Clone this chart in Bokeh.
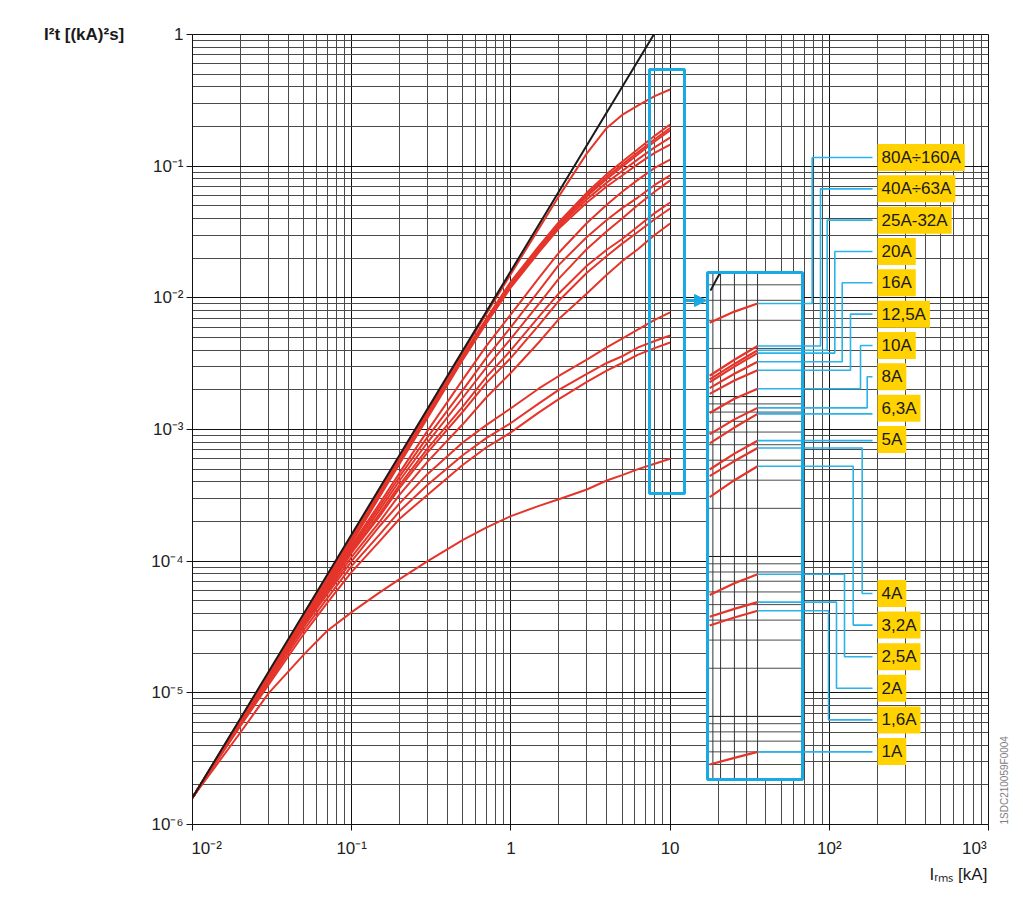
import math
from bokeh.plotting import figure
from bokeh.models import (Range1d, LogScale, LinearScale, FixedTicker, LinearAxis, Title,
                          Arrow, NormalHead, ColumnDataSource)
from bokeh.core.properties import value
from bokeh.embed import file_html
from bokeh.resources import INLINE

# ---------------- data ----------------
X = [0.01, 0.02, 0.03, 0.05, 0.07, 0.1, 0.15, 0.2, 0.3, 0.5, 0.7, 1, 1.5, 2, 3, 4, 5, 6.3, 8, 10]

BLACK_X = [0.01, 10]
BLACK_Y = [1.6e-6, 1.6]

Y_80A_160A = [1.6e-6, 6.3e-6, 1.41e-5, 3.9e-5, 7.6e-5, 1.55e-4, 3.48e-4, 6.2e-4, 1.39e-3, 3.86e-3, 7.55e-3, 0.0152, 0.0337, 0.059, 0.125, 0.195, 0.245, 0.29, 0.34, 0.382]
Y_40A_63A = [1.6e-6, 6.2e-6, 1.38e-5, 3.75e-5, 7.25e-5, 1.48e-4, 3.32e-4, 5.9e-4, 1.33e-3, 3.68e-3, 6.9e-3, 0.0133, 0.0247, 0.0376, 0.063, 0.087, 0.108, 0.135, 0.170, 0.207]
Y_25A_32A = [1.6e-6, 6.15e-6, 1.37e-5, 3.7e-5, 7.15e-5, 1.45e-4, 3.26e-4, 5.8e-4, 1.30e-3, 3.6e-3, 6.8e-3, 0.0130, 0.0241, 0.0367, 0.061, 0.083, 0.103, 0.128, 0.160, 0.195]
Y_20A = [1.6e-6, 6.1e-6, 1.36e-5, 3.67e-5, 7.1e-5, 1.43e-4, 3.22e-4, 5.72e-4, 1.285e-3, 3.56e-3, 6.7e-3, 0.0128, 0.0237, 0.036, 0.059, 0.080, 0.099, 0.123, 0.154, 0.187]
Y_16A = [1.6e-6, 6.05e-6, 1.35e-5, 3.62e-5, 7.0e-5, 1.41e-4, 3.16e-4, 5.6e-4, 1.26e-3, 3.48e-3, 6.55e-3, 0.0124, 0.0229, 0.0348, 0.056, 0.075, 0.092, 0.113, 0.139, 0.165]
Y_12A5 = [1.6e-6, 6.0e-6, 1.34e-5, 3.57e-5, 6.9e-5, 1.38e-4, 3.1e-4, 5.5e-4, 1.23e-3, 3.4e-3, 6.4e-3, 0.0120, 0.0222, 0.0336, 0.053, 0.070, 0.085, 0.104, 0.126, 0.146]
Y_10A = [1.6e-6, 6.1e-6, 1.33e-5, 3.55e-5, 6.7e-5, 1.32e-4, 2.75e-4, 4.7e-4, 9.8e-4, 2.4e-3, 4.3e-3, 7.5e-3, 0.0142, 0.022, 0.037, 0.051, 0.064, 0.079, 0.097, 0.112]
Y_8A = [1.6e-6, 6.1e-6, 1.32e-5, 3.5e-5, 6.5e-5, 1.28e-4, 2.6e-4, 4.4e-4, 8.8e-4, 2.0e-3, 3.5e-3, 6.0e-3, 0.0113, 0.0178, 0.029, 0.039, 0.048, 0.058, 0.072, 0.085]
Y_6A3 = [1.6e-6, 6.0e-6, 1.31e-5, 3.4e-5, 6.3e-5, 1.24e-4, 2.45e-4, 4.1e-4, 8.0e-4, 1.75e-3, 2.95e-3, 4.9e-3, 9.0e-3, 0.014, 0.0235, 0.032, 0.040, 0.051, 0.064, 0.078]
Y_5A = [1.6e-6, 6.0e-6, 1.3e-5, 3.35e-5, 6.1e-5, 1.2e-4, 2.3e-4, 3.8e-4, 7.2e-4, 1.5e-3, 2.5e-3, 4.0e-3, 7.2e-3, 0.0108, 0.0175, 0.0232, 0.028, 0.035, 0.044, 0.053]
Y_4A = [1.6e-6, 6.0e-6, 1.29e-5, 3.3e-5, 6.0e-5, 1.16e-4, 2.2e-4, 3.6e-4, 6.7e-4, 1.37e-3, 2.25e-3, 3.5e-3, 6.2e-3, 0.0095, 0.0155, 0.0208, 0.0258, 0.0318, 0.0395, 0.0477]
Y_3A2 = [1.6e-6, 5.9e-6, 1.27e-5, 3.2e-5, 5.8e-5, 1.08e-4, 2.0e-4, 3.2e-4, 5.7e-4, 1.1e-3, 1.75e-3, 2.7e-3, 4.6e-3, 6.9e-3, 0.0108, 0.015, 0.019, 0.0235, 0.030, 0.0367]
Y_2A5 = [1.6e-6, 5.8e-6, 1.25e-5, 3.2e-5, 5.6e-5, 1.0e-4, 1.85e-4, 2.75e-4, 4.6e-4, 8.0e-4, 1.08e-3, 1.45e-3, 2.05e-3, 2.55e-3, 3.4e-3, 4.2e-3, 4.9e-3, 5.75e-3, 6.8e-3, 7.75e-3]
Y_2A = [1.6e-6, 5.7e-6, 1.2e-5, 3.0e-5, 5.2e-5, 9.2e-5, 1.6e-4, 2.4e-4, 3.8e-4, 6.4e-4, 8.6e-4, 1.12e-3, 1.58e-3, 2.0e-3, 2.65e-3, 3.2e-3, 3.6e-3, 4.2e-3, 4.7e-3, 5.18e-3]
Y_1A6 = [1.6e-6, 5.6e-6, 1.15e-5, 2.8e-5, 4.8e-5, 8.3e-5, 1.42e-4, 2.1e-4, 3.2e-4, 5.4e-4, 7.3e-4, 9.5e-4, 1.35e-3, 1.7e-3, 2.3e-3, 2.8e-3, 3.2e-3, 3.7e-3, 4.15e-3, 4.58e-3]
Y_1A = [1.6e-6, 5.0e-6, 9.9e-6, 1.95e-5, 2.95e-5, 4.1e-5, 5.8e-5, 7.3e-5, 1.0e-4, 1.45e-4, 1.8e-4, 2.2e-4, 2.63e-4, 2.95e-4, 3.5e-4, 4.1e-4, 4.5e-4, 5.0e-4, 5.5e-4, 6.0e-4]

LABELS = ["80A÷160A", "40A÷63A", "25A-32A", "20A", "16A", "12,5A", "10A", "8A",
          "6,3A", "5A", "4A", "3,2A", "2,5A", "2A", "1,6A", "1A"]
SERIES = [Y_80A_160A, Y_40A_63A, Y_25A_32A, Y_20A, Y_16A, Y_12A5, Y_10A, Y_8A,
          Y_6A3, Y_5A, Y_4A, Y_3A2, Y_2A5, Y_2A, Y_1A6, Y_1A]

X_TICKS = [0.01, 0.1, 1, 10, 100, 1000]
X_TICK_LABELS = ["10⁻²", "10⁻¹", "1", "10", "10²", "10³"]
Y_TICKS = [1e-6, 1e-5, 1e-4, 1e-3, 1e-2, 1e-1, 1]
Y_TICK_LABELS = ["10⁻⁶", "10⁻⁵", "10⁻⁴", "10⁻³", "10⁻²", "10⁻¹", "1"]

Y_TITLE = "I²t [(kA)²s]"
X_TITLE = "Iᵣₘₛ [kA]"
CODE = "1SDC210059F0004"

# inset (magnified) detail
INSET_STUB_FROM = 6.3
INSET_VGRID = [6.5, 7, 8, 9, 10]
INSET_BLACK_X = [6.35, 6.95]
INSET_BLACK_Y = [0.46, 0.59]

# ---------------- layout constants ----------------
FL, FT, FW, FH = 192, 34, 796, 790          # frame in page px
RED = "#E5352B"
BLUE = "#19A9E3"
LEADER = "#2BB3EA"
YELLOW = "#FFD200"
FONT = "Liberation Sans"
FSP = "\u2007"  # figure space, used to nudge end tick labels inside the frame
X_TITLE_CENTER_PX = 958

IX_LO, IX_HI = 10 ** -1.366, 10 ** 1.967
IY_LO, IY_HI = 10 ** -3.6762, 10 ** 1.2644


def ix_of_px(px):
    a, b = math.log10(IX_LO), math.log10(IX_HI)
    return 10 ** (a + (px - FL) / FW * (b - a))


def iy_of_py(py):
    a, b = math.log10(IY_LO), math.log10(IY_HI)
    return 10 ** (b - (py - FT) / FH * (b - a))


p = figure(x_axis_type="log", y_axis_type="log",
           x_range=Range1d(0.01, 1000), y_range=Range1d(1e-6, 1),
           frame_width=FW, frame_height=FH,
           min_border_left=FL, min_border_right=33, min_border_top=FT, min_border_bottom=82,
           output_backend="svg", toolbar_location=None,
           background_fill_color="white", border_fill_color="white",
           outline_line_color="#111111", outline_line_width=1)
p.styles = {"outline": "1.5px solid #707070", "outline-offset": "-4px"}

p.extra_x_ranges = {"ix": Range1d(IX_LO, IX_HI), "px": Range1d(FL, FL + FW)}
p.extra_x_scales = {"ix": LogScale(), "px": LinearScale()}
p.extra_y_ranges = {"iy": Range1d(IY_LO, IY_HI), "py": Range1d(FT + FH, FT)}
p.extra_y_scales = {"iy": LogScale(), "py": LinearScale()}

x_minor = [m * 10.0 ** e for e in range(-2, 3) for m in range(2, 10)]
y_minor = [m * 10.0 ** e for e in range(-6, 0) for m in range(2, 10)]
xt = FixedTicker(ticks=X_TICKS, minor_ticks=x_minor)
yt = FixedTicker(ticks=Y_TICKS, minor_ticks=y_minor)
p.xaxis.ticker = xt
p.yaxis.ticker = yt
p.xgrid.ticker = xt
p.ygrid.ticker = yt
for g in (p.xgrid, p.ygrid):
    g.grid_line_color = "#111111"
    g.grid_line_width = 1
    g.minor_grid_line_color = "#4a4a4a"
    g.minor_grid_line_width = 1

xo = dict(zip(X_TICKS, X_TICK_LABELS))
xo[X_TICKS[0]] = FSP * 3 + X_TICK_LABELS[0]
xo[X_TICKS[-1]] = X_TICK_LABELS[-1] + FSP * 3
p.xaxis.major_label_overrides = xo
p.yaxis.major_label_overrides = dict(zip(Y_TICKS, Y_TICK_LABELS))
for ax in (p.xaxis, p.yaxis):
    ax.axis_line_color = "#111111"
    ax.major_tick_line_color = "#111111"
    ax.major_tick_out = 6
    ax.major_tick_in = 0
    ax.minor_tick_out = 0
    ax.minor_tick_in = 0
    ax.major_label_text_font = FONT
    ax.major_label_text_font_size = "17px"
    ax.major_label_text_color = "#222222"
p.xaxis.major_label_standoff = 8
p.yaxis.major_label_standoff = 3

yax = p.yaxis[0]
HAS_ALIGN = "axis_label_align" in yax.properties()

# y title (horizontal, at the top-left)
if HAS_ALIGN:
    yax.axis_label = Y_TITLE
    yax.axis_label_orientation = "horizontal"
    yax.axis_label_align = "end"
    yax.axis_label_text_font = FONT
    yax.axis_label_text_font_size = "17px"
    yax.axis_label_text_font_style = "bold"
    yax.axis_label_text_color = "#1a1a1a"
    yax.axis_label_text_baseline = "top"
    yax.axis_label_standoff = 24
else:
    p.add_layout(Title(text=Y_TITLE, align="left", offset=-155, text_font=FONT,
                       text_font_size="17px", text_font_style="bold"), "above")

# x title: a tick-less outer axis whose single label sits at the lower right
title_ax = LinearAxis(x_range_name="px", ticker=FixedTicker(ticks=[X_TITLE_CENTER_PX]),
                      major_label_overrides={X_TITLE_CENTER_PX: X_TITLE},
                      axis_line_color=None, major_tick_line_color=None, minor_tick_line_color=None,
                      major_tick_out=0, major_tick_in=0, minor_tick_out=0, minor_tick_in=0,
                      major_label_standoff=4, major_label_text_font=FONT,
                      major_label_text_font_size="17px", major_label_text_color="#1a1a1a")
p.add_layout(title_ax, "below")

# drawing code on the right edge
code_ax = LinearAxis(y_range_name="py", ticker=FixedTicker(ticks=[]),
                     axis_line_color=None, major_tick_line_color=None, minor_tick_line_color=None,
                     major_label_text_font_size="0px",
                     axis_label=CODE, axis_label_text_font=FONT, axis_label_text_font_size="10px",
                     axis_label_text_font_style="normal", axis_label_text_color="#808080",
                     axis_label_standoff=16, axis_label_orientation=math.pi / 2)
if HAS_ALIGN:
    code_ax.axis_label_align = "end"
    code_ax.axis_label_text_align = "right"
p.add_layout(code_ax, "right")

# ---------------- main curves ----------------
for ys in SERIES:
    p.line(X, ys, line_color=RED, line_width=2)
p.line(BLACK_X, BLACK_Y, line_color="#1a1a1a", line_width=2)

# left highlight box + arrow
p.quad(left=[649], right=[684], top=[69], bottom=[493], x_range_name="px", y_range_name="py",
       fill_alpha=0, line_color=BLUE, line_width=3)
p.add_layout(Arrow(x_start=684, y_start=300, x_end=706, y_end=300, x_range_name="px", y_range_name="py",
                   line_color=BLUE, line_width=3,
                   end=NormalHead(size=12, fill_color=BLUE, line_color=BLUE)))

# ---------------- inset ----------------
p.quad(left=[707], right=[802], top=[272], bottom=[779], x_range_name="px", y_range_name="py",
       fill_color="white", line_alpha=0)

iy_top, iy_bot = iy_of_py(272), iy_of_py(779)
ix_l, ix_r = ix_of_px(707), ix_of_px(802)
hg = [m * 10.0 ** e for e in range(-4, 1) for m in range(1, 10) if iy_bot < m * 10.0 ** e < iy_top]
p.segment(x0=[ix_l] * len(hg), x1=[ix_r] * len(hg), y0=hg, y1=hg, x_range_name="ix", y_range_name="iy",
          line_color=["#111111" if abs(math.log10(v) - round(math.log10(v))) < 1e-9 else "#4a4a4a" for v in hg],
          line_width=1)
p.segment(x0=INSET_VGRID, x1=INSET_VGRID, y0=[iy_bot] * len(INSET_VGRID), y1=[iy_top] * len(INSET_VGRID),
          x_range_name="ix", y_range_name="iy", line_color="#333333", line_width=1)

stub_x = [x for x in X if x >= INSET_STUB_FROM]
for ys in SERIES:
    stub_y = [y for x, y in zip(X, ys) if x >= INSET_STUB_FROM]
    p.line(stub_x, stub_y, x_range_name="ix", y_range_name="iy", line_color=RED, line_width=2.2)
p.line(INSET_BLACK_X, INSET_BLACK_Y, x_range_name="ix", y_range_name="iy", line_color="#1a1a1a", line_width=2)

# leader lines from stub ends to labels
LABEL_PY = [157 + 31.33 * i for i in range(10)] + [593 + 31.6 * j for j in range(6)]
LEADER_COL_PX = [811.7, 820, 826.7, 834.3, 841.7, 850, 860, 866.7, None, None,
                 861.7, 852.7, 844, 836, 828, None]
LABEL_LEFT_PX = 872
xs, ys_l = [], []
for ys, col, lpy in zip(SERIES, LEADER_COL_PX, LABEL_PY):
    y_end = ys[-1]
    if col is None:
        xs.append([X[-1], ix_of_px(LABEL_LEFT_PX)])
        ys_l.append([y_end, y_end])
    else:
        xc = ix_of_px(col)
        ly = iy_of_py(lpy)
        xs.append([X[-1], xc, xc, ix_of_px(LABEL_LEFT_PX)])
        ys_l.append([y_end, y_end, ly, ly])
p.multi_line(xs, ys_l, x_range_name="ix", y_range_name="iy", line_color=LEADER, line_width=1.6)

p.quad(left=[707], right=[802], top=[272], bottom=[779], x_range_name="px", y_range_name="py",
       fill_alpha=0, line_color=BLUE, line_width=3)

# labels
src = ColumnDataSource(dict(x=[LABEL_LEFT_PX + 5] * len(LABELS), y=LABEL_PY, text=LABELS))
p.text(x="x", y="y", text="text", source=src, x_range_name="px", y_range_name="py",
       text_font=value(FONT), text_font_size="17px", text_color="#1a1a1a",
       text_align="left", text_baseline="middle",
       background_fill_color=YELLOW, padding=4)

open("out.html", "w").write(file_html(p, INLINE))
